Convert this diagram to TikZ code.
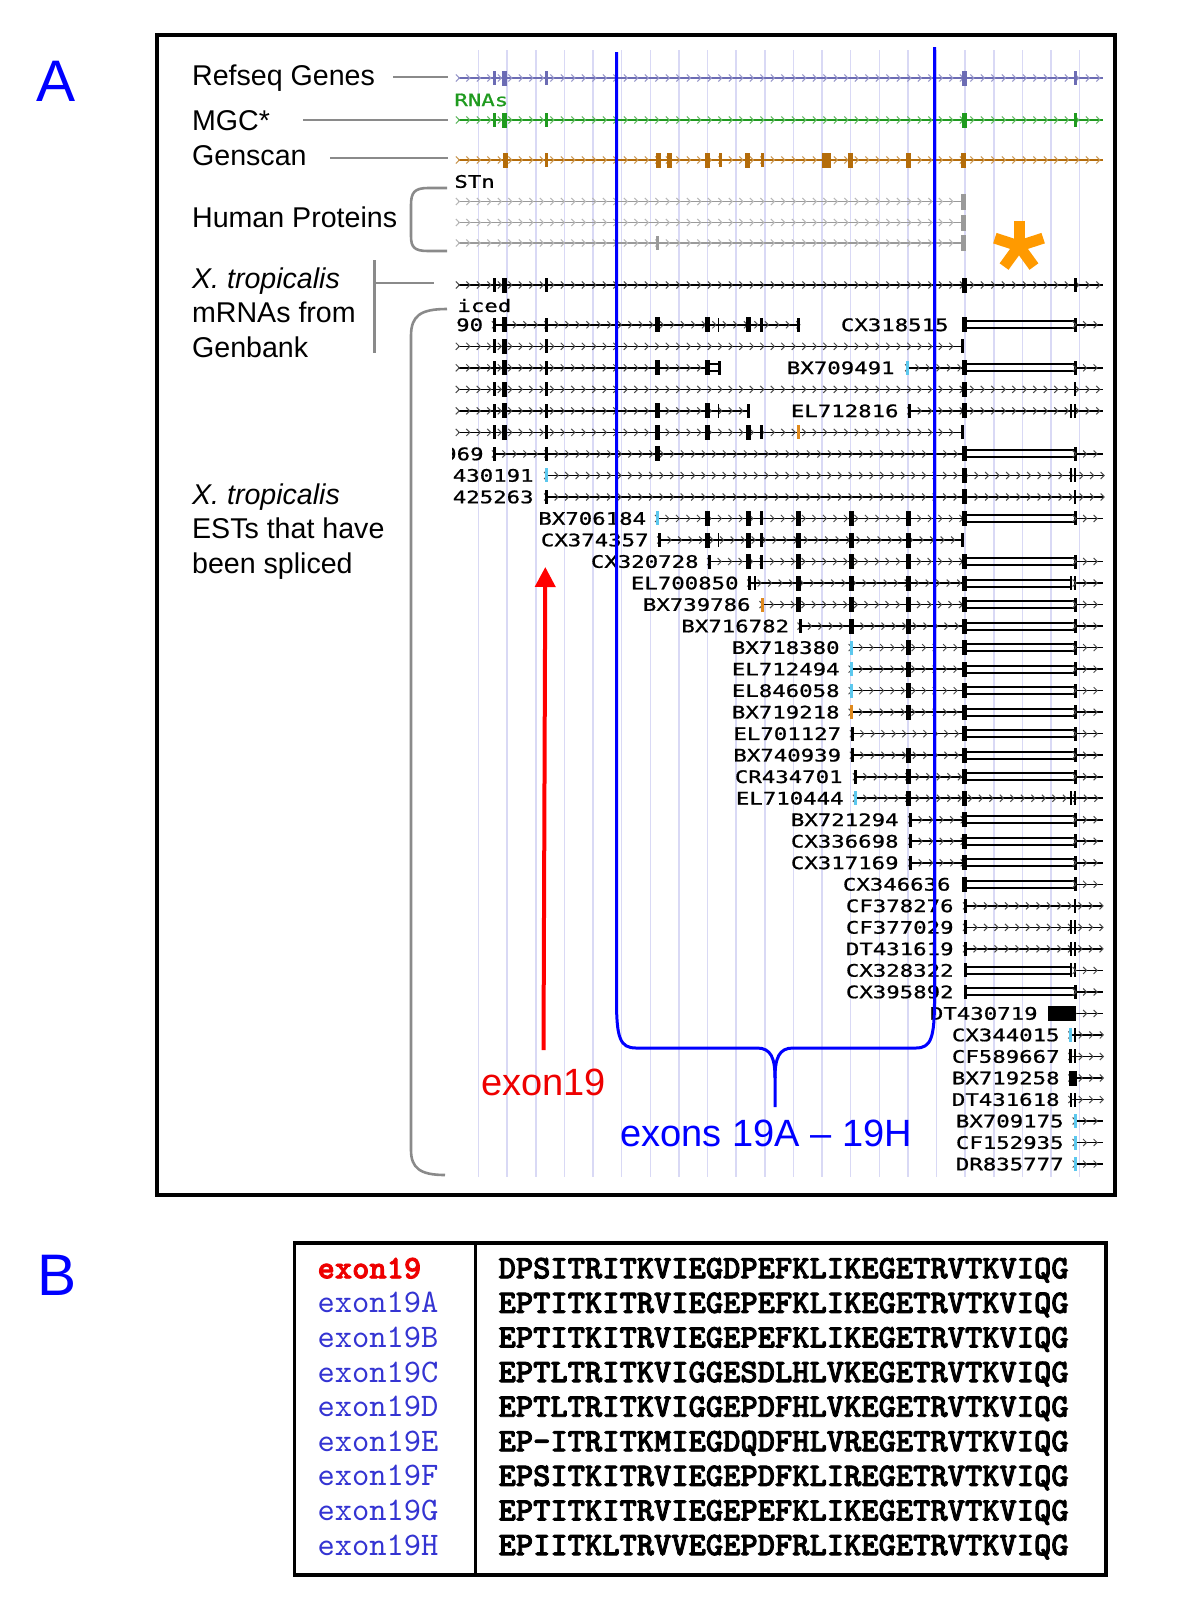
\documentclass[tikz,border=0pt]{standalone}
\usepackage{fontspec}
\setmainfont{Liberation Sans}
\newfontfamily\ucscfont[FakeStretch=1.3, FakeBold=1]{DejaVu Sans Mono}
\newfontfamily\alnfont{lmmono10-regular.otf}
\newfontfamily\alnbold[FakeBold=2.5]{lmmonolt10-bold.otf}
\usetikzlibrary{arrows.meta,decorations.markings}

\definecolor{RefBlue}{HTML}{6C6CB4}
\definecolor{MgcGreen}{HTML}{1F9A1F}
\definecolor{GsBrown}{HTML}{B46C0A}
\definecolor{ProtGray}{HTML}{9A9A9A}
\definecolor{GridLav}{HTML}{D9D9F5}
\definecolor{EstCyan}{HTML}{5CC8EE}
\definecolor{EstOrange}{HTML}{E08A1E}
\definecolor{StarOrange}{HTML}{FF9A00}
\definecolor{PanelBlue}{HTML}{0000FF}
\definecolor{SeqBlue}{HTML}{3434D2}
\definecolor{ExRed}{HTML}{EE0000}
\definecolor{BrGray}{HTML}{8A8A8A}

\tikzset{
  trk/.style={draw=#1, line width=0.8pt,
    postaction={decorate, decoration={markings,
      mark=between positions 0 and 1 step 5.25pt with {\draw[#1!70, line width=0.5pt] (-2.5,3.5) -- (1,0) -- (-2.5,-3.5);}}}},
  trk/.default=black,
  gapline/.style={draw=black, line width=1pt},
  gridline/.style={draw=GridLav, line width=0.75pt},
  brk/.style={draw=BrGray, line width=1.3pt},
  exbrace/.style={draw=PanelBlue, line width=1.5pt},
  redarrow/.style={draw=red, line width=2pt, -{Triangle[length=10pt,width=10pt]}},
  estlbl/.style={font=\ucscfont\fontsize{8.6}{9}\selectfont, anchor=east, inner sep=0pt},
  trklbl/.style={font=\ucscfont\fontsize{8.6}{9}\selectfont, anchor=west, inner sep=0pt},
  sidelbl/.style={font=\fontsize{14.3}{17}\selectfont, anchor=base west, inner sep=0pt},
  panellbl/.style={font=\fontsize{29.3}{34}\selectfont, text=PanelBlue, anchor=base west, inner sep=0pt},
  bigtxt/.style={font=\fontsize{19}{22}\selectfont, anchor=base, inner sep=0pt},
  alnlbl/.style={font=\alnfont\fontsize{16.45}{19}\selectfont, text=SeqBlue, anchor=base west, inner sep=0pt},
  alnseq/.style={font=\alnbold\fontsize{16.45}{19}\selectfont, anchor=base west, inner sep=0pt},
}

% track pieces, drawn in a lane shifted to y = 0
\newcommand{\bbone}[3][black]{\draw[trk=#1] (#2,0) -- (#3,0);}
\newcommand{\exthin}[2][black]{\fill[#1] ({#2-1.5},-7) rectangle ({#2+1.5},7);}
\newcommand{\exthick}[2][black]{\fill[#1] ({#2-2.5},-7.5) rectangle ({#2+2.5},7.5);}
\newcommand{\exhair}[2][black]{\fill[#1] ({#2-0.8},-7) rectangle ({#2+0.8},7);}
\newcommand{\gapbox}[2]{\draw[gapline] (#1,-3.5) -- (#2,-3.5) (#1,3.5) -- (#2,3.5);}
\newcommand{\estlabel}[3]{\node[estlbl] (#1) at (#2,0) {#3};}
\newcommand{\lane}[2]{\begin{scope}[shift={(0,#1)}]#2\end{scope}}
\newcommand{\estrow}[2]{\lane{{324.8+21.52*(#1-1)}}{#2}}
\newcommand{\dbltail}{\gapbox{964.2}{1075.1}\exthick{964.2}\exthin{1075.1}\bbone{1075.1}{1103.4}}
\newcommand{\dbltick}{\exhair{1070.8}\exhair{1075.1}}

\begin{document}
\begin{tikzpicture}[x=0.5pt, y=-0.5pt]
\useasboundingbox (0,0) rectangle (1200,1622);

% panel letters
\node[panellbl] (labA) at (36,101.7) {A};
\node[panellbl] (labB) at (37,1295) {B};

% frame of panel A
\draw[line width=2pt] (157.2,34.5) rectangle (1115,1194.5);

% light grid of the browser window
\foreach \k in {0,...,21}
  \draw[gridline] ({478.5+28.63*\k},50) -- ++(0,1127);

% track names on the left
\node[sidelbl] (refseq) at (191.7,85.5) {Refseq Genes};
\node[sidelbl] (mgc) at (191.7,130) {MGC*};
\node[sidelbl] (genscan) at (191.7,165) {Genscan};
\node[sidelbl] (humprot) at (191.7,227) {Human Proteins};
\node[sidelbl] (mrnaA) at (191.7,288) {\itshape X. tropicalis};
\node[sidelbl] (mrnaB) at (191.7,322.5) {mRNAs from};
\node[sidelbl] (mrnaC) at (191.7,357) {Genbank};
\node[sidelbl] (estA) at (191.7,504) {\itshape X. tropicalis};
\node[sidelbl] (estB) at (191.7,538.5) {ESTs that have};
\node[sidelbl] (estC) at (191.7,573) {been spliced};

% pointers and brackets
\coordinate (refseqtrk) at (448,77);
\coordinate (mgctrk) at (448,120);
\coordinate (genscantrk) at (448,158);
\draw[brk] (393,77) -- (refseqtrk);
\draw[brk] (303,120) -- (mgctrk);
\draw[brk] (330,158) -- (genscantrk);
\draw[brk] (447,188) -- (428,188) .. controls (414,188) and (411,193) .. (411,205)
  -- (411,236) .. controls (411,247) and (414,251) .. (428,251) -- (447,251);
\draw[brk] (374.5,260) -- (374.5,353);
\draw[brk] (374.5,283) -- (434,283);
\draw[brk] (447,309) .. controls (420,309) and (411,316) .. (411,336)
  -- (411,1150) .. controls (411,1168) and (420,1175) .. (445,1175);

\begin{scope}
\clip (452,40) rectangle (1110,1190);
% Refseq, MGC, Genscan
\lane{78}{\bbone[RefBlue]{458.3}{1103.4}\exthin[RefBlue]{494.4}\exthick[RefBlue]{504.4}\exthin[RefBlue]{546.6}\exthick[RefBlue]{964.2}\exthin[RefBlue]{1075.1}}
\lane{100}{\node[trklbl, text=MgcGreen] (mgcname) at (454,0) {RNAs};}
\lane{120}{\bbone[MgcGreen]{458.3}{1103.4}\exthin[MgcGreen]{494.4}\exthick[MgcGreen]{504.4}\exthin[MgcGreen]{546.6}\exthick[MgcGreen]{964.2}\exthin[MgcGreen]{1075.1}}
\lane{160}{\bbone[GsBrown]{458.3}{1103.4}\exthick[GsBrown]{505.9}\exthin[GsBrown]{546.4}\exthick[GsBrown]{658.5}\exthick[GsBrown]{669.5}\exthick[GsBrown]{707.6}\exthin[GsBrown]{720}\exthick[GsBrown]{747.5}\exthin[GsBrown]{762}\fill[GsBrown] (822,-7.5) rectangle (831,7.5);\exthick[GsBrown]{850.8}\exthick[GsBrown]{908}\exthick[GsBrown]{963.5}}

% human proteins
\lane{181.5}{\node[trklbl] (blastname) at (454,0) {STn};}
\lane{201.5}{\bbone[ProtGray]{458.3}{961}\fill[ProtGray] (961,-8) rectangle (966,8);}
\lane{222.5}{\bbone[ProtGray]{458.3}{961}\fill[ProtGray] (961,-8) rectangle (966,8);}
\lane{243}{\bbone[ProtGray]{458.3}{961}\exthin[ProtGray]{657.5}\fill[ProtGray] (961,-8) rectangle (966,8);}

% mRNA
\lane{285}{\draw[trk, line width=1.2pt] (458.3,0) -- (1103.4,0);\exthin{494.4}\exthick{504.4}\exthin{546.6}\exthick{964.2}\exthin{1075.1}}
\lane{305.5}{\node[trklbl] (splname) at (457,0) {iced};}

% spliced ESTs
\estrow{1}{\estlabel{lbl90}{483.5}{90}\bbone{494.4}{798.9}\exthin{494.4}\exthick{504.4}\exthin{546.6}\exthick{657.5}\exthick{707.5}\exhair{718.4}\exthick{748.9}\exthin{761.9}\exthin{798.9}
  \estlabel{CX318515}{949}{CX318515}\dbltail}
\estrow{2}{\bbone{458.3}{962}\exthin{494.4}\exthick{504.4}\exthin{546.6}\exthin{962}}
\estrow{3}{\bbone{458.3}{707.5}\exthin{494.4}\exthick{504.4}\exthin{546.6}\exthick{657.5}\gapbox{707.5}{719.5}\exthick{707.5}\exthin{719.5}
  \estlabel{BX709491}{895}{BX709491}\bbone{907.6}{964.2}\exthin[EstCyan]{907.6}\dbltail}
\estrow{4}{\bbone{458.3}{1103.4}\exthin{494.4}\exthick{504.4}\exthin{546.6}\exthick{964.2}\exhair{1075.1}}
\estrow{5}{\bbone{458.3}{748.9}\exthin{494.4}\exthick{504.4}\exthin{546.6}\exthick{657.5}\exthick{707.5}\exhair{718.4}\exthin{748.9}
  \estlabel{EL712816}{899}{EL712816}\bbone{909.8}{1103.4}\exthin{909.8}\exthick{964.2}\dbltick}
\estrow{6}{\bbone{458.3}{962}\exthin{494.4}\exthick{504.4}\exthin{546.6}\exthick{657.5}\exthick{707.5}\exthick{748.9}\exthin{761.9}\exthin[EstOrange]{798.9}\exthin{962}}
\estrow{7}{\estlabel{lbl969}{484}{969}\bbone{494.4}{964.2}\exthin{494.4}\exthin{546.6}\exthick{657.5}\dbltail}
\estrow{8}{\estlabel{lbl430191}{534}{430191}\bbone{546.6}{1103.4}\exthin[EstCyan]{546.6}\exthick{964.2}\dbltick}
\estrow{9}{\estlabel{lbl425263}{534}{425263}\bbone{546.6}{1103.4}\exthin{546.6}\exthick{964.2}\exhair{1075.1}}
\estrow{10}{\estlabel{BX706184}{646.5}{BX706184}\bbone{657.5}{964.2}\exthin[EstCyan]{657.5}\exthick{707.5}\exthick{748.9}\exthin{761.9}\exthick{798.9}\exthick{851.1}\exthick{908.9}\dbltail}
\estrow{11}{\estlabel{CX374357}{649}{CX374357}\bbone{659.7}{962}\exthin{659.7}\exthick{707.5}\exhair{718.4}\exthick{748.9}\exthin{761.9}\exthick{798.9}\exthick{851.1}\exthick{908.9}\exthin{962}}
\estrow{12}{\estlabel{CX320728}{699}{CX320728}\bbone{709.7}{964.2}\exthin{709.7}\exthick{748.9}\exthin{761.9}\exthick{798.9}\exthick{851.1}\exthick{908.9}\dbltail}
\estrow{13}{\estlabel{EL700850}{739}{EL700850}\bbone{749.7}{964.2}\exthin{749.7}\exhair{755}\exthick{798.9}\exthick{851.1}\exthick{908.9}\gapbox{964.2}{1070.8}\exthick{964.2}\dbltick\bbone{1075.1}{1103.4}}
\estrow{14}{\estlabel{BX739786}{751}{BX739786}\bbone{762}{964.2}\exthin[EstOrange]{762}\exthick{798.9}\exthick{851.1}\exthick{908.9}\dbltail}
\estrow{15}{\estlabel{BX716782}{789.5}{BX716782}\bbone{800}{964.2}\exthin{800}\exthick{851.1}\exthick{908.9}\dbltail}
\estrow{16}{\estlabel{BX718380}{840}{BX718380}\bbone{851.1}{964.2}\exthin[EstCyan]{851.1}\exthick{908.9}\dbltail}
\estrow{17}{\estlabel{EL712494}{840}{EL712494}\bbone{851.1}{964.2}\exthin[EstCyan]{851.1}\exthick{908.9}\dbltail}
\estrow{18}{\estlabel{EL846058}{840}{EL846058}\bbone{851.1}{964.2}\exthin[EstCyan]{851.1}\exthick{908.9}\dbltail}
\estrow{19}{\estlabel{BX719218}{840}{BX719218}\bbone{851.1}{964.2}\exthin[EstOrange]{851.1}\exthick{908.9}\dbltail}
\estrow{20}{\estlabel{EL701127}{841.5}{EL701127}\bbone{852.4}{964.2}\exthin{852.4}\dbltail}
\estrow{21}{\estlabel{BX740939}{841.5}{BX740939}\bbone{852.4}{964.2}\exthin{852.4}\exthick{908.9}\dbltail}
\estrow{22}{\estlabel{CR434701}{843}{CR434701}\bbone{855.4}{964.2}\exthin{855.4}\exthick{908.9}\dbltail}
\estrow{23}{\estlabel{EL710444}{844}{EL710444}\bbone{855.4}{1103.4}\exthin[EstCyan]{855.4}\exthick{908.9}\exthick{964.2}\dbltick}
\estrow{24}{\estlabel{BX721294}{899}{BX721294}\bbone{910.7}{964.2}\exthin{910.7}\dbltail}
\estrow{25}{\estlabel{CX336698}{899}{CX336698}\bbone{910.7}{964.2}\exthin{910.7}\dbltail}
\estrow{26}{\estlabel{CX317169}{899}{CX317169}\bbone{910.7}{964.2}\exthin{910.7}\dbltail}
\estrow{27}{\estlabel{CX346636}{951}{CX346636}\dbltail}
\estrow{28}{\estlabel{CF378276}{954}{CF378276}\bbone{965.5}{1103.4}\exthin{965.5}\exhair{1075.1}}
\estrow{29}{\estlabel{CF377029}{954}{CF377029}\bbone{965.5}{1103.4}\exthin{965.5}\dbltick}
\estrow{30}{\estlabel{DT431619}{954}{DT431619}\bbone{965.5}{1103.4}\exthin{965.5}\dbltick}
\estrow{31}{\estlabel{CX328322}{954}{CX328322}\gapbox{965.5}{1070.8}\exthin{965.5}\dbltick\bbone{1075.1}{1103.4}}
\estrow{32}{\estlabel{CX395892}{954}{CX395892}\gapbox{965.5}{1075.1}\exthin{965.5}\exthin{1075.1}\bbone{1075.1}{1103.4}}
\estrow{33}{\estlabel{DT430719}{1038}{DT430719}\bbone{1075.1}{1103.4}\fill (1048,-7.5) rectangle (1076,7.5);}
\estrow{34}{\estlabel{CX344015}{1060}{CX344015}\bbone{1070.8}{1103.4}\exthin[EstCyan]{1070.8}\exhair{1075.1}}
\estrow{35}{\estlabel{CF589667}{1060}{CF589667}\bbone{1070.8}{1103.4}\exthin{1070.8}\exhair{1075.1}}
\estrow{36}{\estlabel{BX719258}{1060}{BX719258}\bbone{1070.8}{1103.4}\fill (1069,-7.5) rectangle (1076.5,7.5);}
\estrow{37}{\estlabel{DT431618}{1060}{DT431618}\bbone{1070.8}{1103.4}\dbltick}
\estrow{38}{\estlabel{BX709175}{1064}{BX709175}\bbone{1075.1}{1103.4}\exthin[EstCyan]{1075.1}}
\estrow{39}{\estlabel{CF152935}{1064}{CF152935}\bbone{1075.1}{1103.4}\exthin[EstCyan]{1075.1}}
\estrow{40}{\estlabel{DR835777}{1064}{DR835777}\bbone{1075.1}{1103.4}\exthin[EstCyan]{1075.1}}
\end{scope}

% orange asterisk
\foreach \a in {-90,-18,-162,54,126}
  \draw[StarOrange, line width=5.5pt] (1019,246) -- ++(\a:25.4);

% exon 19 and its arrow
\node[bigtxt, text=ExRed] (exonlbl) at (543.5,1095) {exon19};
\coordinate (exontip) at (545.3,567);
\draw[redarrow] ([yshift=9pt]exonlbl.north) -- (exontip);

% brace over exons 19A-19H
\draw[exbrace] (616.5,52) -- (616.5,1000) .. controls (616.5,1038) and (620,1048) .. (636,1048)
  -- (757,1048) .. controls (771,1048) and (775,1058) .. (775,1078) -- (775,1107);
\draw[exbrace] (934.5,47) -- (934.5,1000) .. controls (934.5,1038) and (931,1048) .. (916,1048)
  -- (793,1048) .. controls (779,1048) and (775,1058) .. (775,1078);
\node[bigtxt, text=PanelBlue] (exonslbl) at (766,1146.7) {exons 19A -- 19H};

% panel B: alignment
\draw[line width=1.75pt] (294.5,1243) rectangle (1106,1575);
\draw[line width=1.75pt] (475.7,1243) -- (475.7,1575);
\node[alnseq, text=ExRed] (lab0) at (317.2,1278.3) {exon19};
\node[alnseq] (seq0) at (498.2,1278.3) {DPSITRITKVIEGDPEFKLIKEGETRVTKVIQG};
\foreach \lab/\sq [count=\i] in {A/EPTITKITRVIEGEPEFKLIKEGETRVTKVIQG,
    B/EPTITKITRVIEGEPEFKLIKEGETRVTKVIQG,
    C/EPTLTRITKVIGGESDLHLVKEGETRVTKVIQG,
    D/EPTLTRITKVIGGEPDFHLVKEGETRVTKVIQG,
    E/EP-ITRITKMIEGDQDFHLVREGETRVTKVIQG,
    F/EPSITKITRVIEGEPDFKLIREGETRVTKVIQG,
    G/EPTITKITRVIEGEPEFKLIKEGETRVTKVIQG,
    H/EPIITKLTRVVEGEPDFRLIKEGETRVTKVIQG} {
  \node[alnlbl] (lab\lab) at (317.2,{1278.3+34.6*\i}) {exon19\lab};
  \node[alnseq] (seq\lab) at (498.2,{1278.3+34.6*\i}) {\sq};
}

\end{tikzpicture}
\end{document}
